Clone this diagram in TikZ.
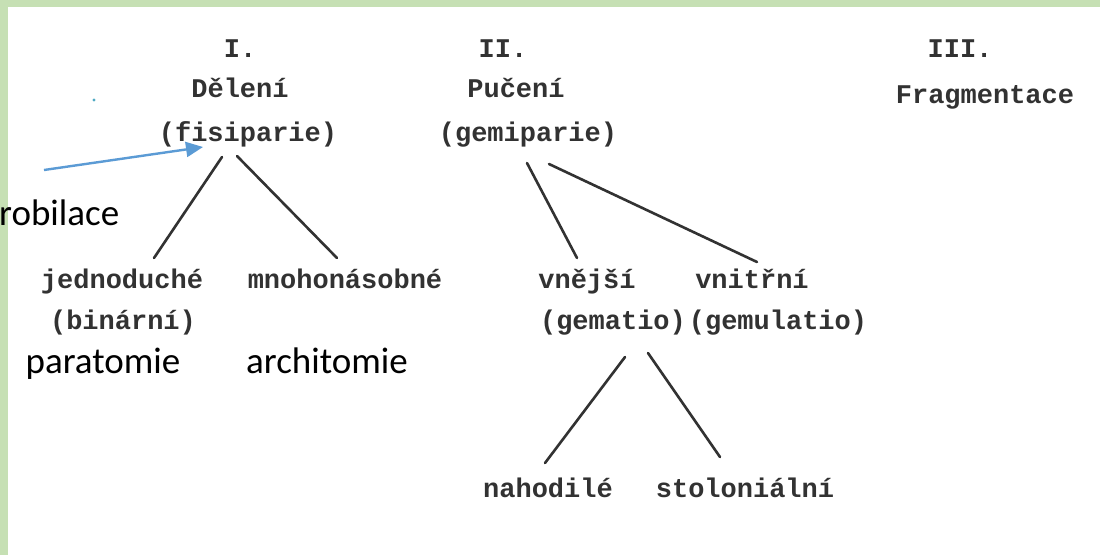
\documentclass[tikz,border=0pt]{standalone}
\usepackage{fontspec}
\setmainfont{Carlito}
\newfontfamily\typewriter{Liberation Mono}
\usetikzlibrary{calc,arrows.meta}
\definecolor{framegreen}{RGB}{198,224,180}
\definecolor{arrowblue}{RGB}{91,155,213}
\definecolor{inkgray}{RGB}{50,50,50}
\definecolor{speck}{RGB}{80,170,195}

\begin{document}
\begin{tikzpicture}[x=1pt,y=-1pt,
  tw/.style={font=\typewriter\bfseries\fontsize{27}{30}\selectfont, text=inkgray, inner sep=0pt, anchor=base},
  note/.style={font=\fontsize{37}{40}\selectfont, text=black, inner sep=0pt, anchor=base},
  branch/.style={draw=inkgray, line width=2.6pt, line cap=round},
  pointer/.style={draw=arrowblue, line width=2.4pt, -{Triangle[length=17pt,width=15pt]}}]

\useasboundingbox (0,0) rectangle (1100,555);
\clip (0,0) rectangle (1100,555);
\fill[white] (0,0) rectangle (1100,555);
% page frame
\fill[framegreen] (0,0) rectangle (1100,7);
\fill[framegreen] (0,0) rectangle (8,555);

% I. division
\node[tw] (r1) at (240,57) {I.};
\node[tw] (del) at (240,97) {Dělení};
\node[tw] (fis) at (248,141) {(fisiparie)};
% II. budding
\node[tw] (r2) at (503,57) {II.};
\node[tw] (puc) at (516,97) {Pučení};
\node[tw] (gem) at (528,141) {(gemiparie)};
% III. fragmentation
\node[tw] (r3) at (960,57) {III.};
\node[tw] (fra) at (985,103) {Fragmentace};

% second level
\node[tw] (jed) at (122,288) {jednoduché};
\node[tw] (bin) at (123,329) {(binární)};
\node[tw] (mno) at (345,288) {mnohonásobné};
\node[tw] (vne) at (587,288) {vnější};
\node[tw] (vni) at (752,288) {vnitřní};
\node[tw] (gema) at (613,329) {(gematio)};
\node[tw] (gemu) at (778,329) {(gemulatio)};

% third level
\node[tw] (nah) at (548,497) {nahodilé};
\node[tw] (sto) at (745,497) {stoloniální};

% handwritten-style notes
\node[note, anchor=base west] (stro) at (-1,225) {robilace};
\node[note] (para) at (103,373) {paratomie};
\node[note] (arch) at (327,373) {architomie};
\fill[speck] (94,100) circle (1.6);

% tree branches
\draw[branch] ($(fis.base)+(-26,16)$) -- ($(jed.base)+(32,-30)$);
\draw[branch] ($(fis.base)+(-11,15)$) -- ($(mno.base)+(-8,-30)$);
\draw[branch] ($(gem.base)+(-1,22)$) -- ($(vne.base)+(-10,-30)$);
\draw[branch] ($(gem.base)+(21,23)$) -- ($(vni.base)+(5,-26)$);
\draw[branch] ($(gema.base)+(12,28)$) -- ($(nah.base)+(-3,-34)$);
\draw[branch] ($(gema.base)+(35,24)$) -- ($(sto.base)+(-25,-40)$);

% pointer to the division branch
\coordinate (ptail) at (44,170);
\draw[pointer] (ptail) -- ($(fis.base)+(-45,6)$);
\end{tikzpicture}
\end{document}
